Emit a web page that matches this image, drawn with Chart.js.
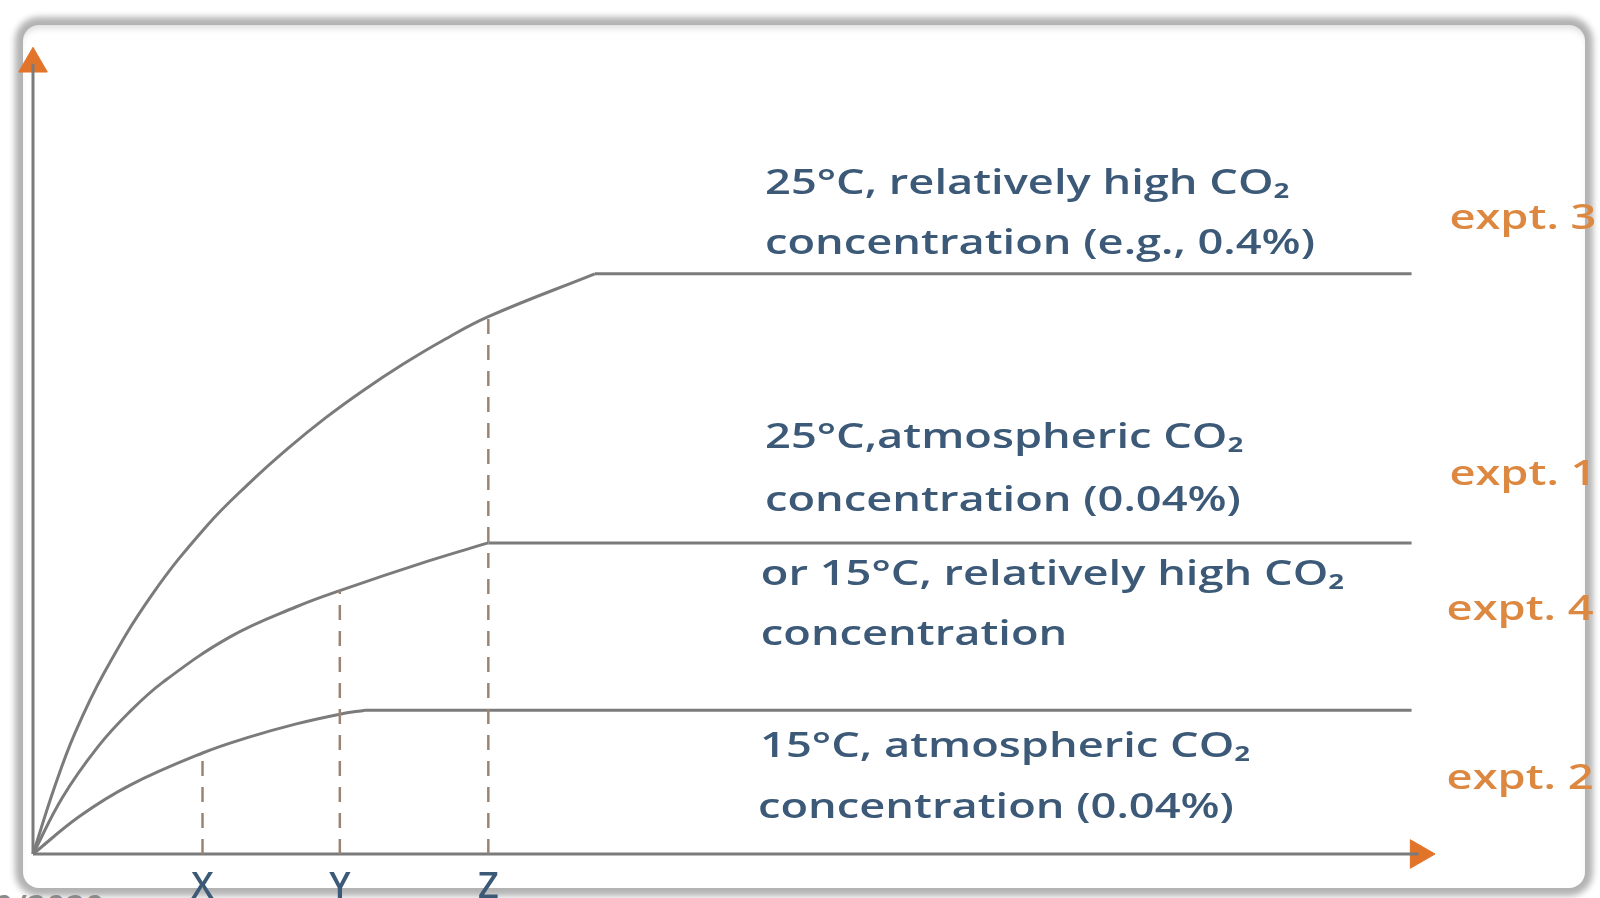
<!DOCTYPE html>
<html lang="en">
<head>
  <meta charset="UTF-8">
  <title>Rate of photosynthesis</title>
  <style>
    html, body { margin: 0; padding: 0; background: #ffffff; overflow: hidden; }
    #page { position: relative; width: 1600px; height: 898px; }
    #frame {
      position: absolute; left: 23px; top: 25px; width: 1562px; height: 863px;
      background: #ffffff; border-radius: 16px;
      box-shadow: 0 0 6px 8px #b3b3b3, inset 0 6px 7px -3px rgba(0,0,0,0.14);
    }
    #stamp {
      position: absolute; left: -6px; top: 884px; color: #8a8a8a;
      font: 600 34px "Open Sans", sans-serif;
    }
    #chartbox { position: absolute; left: 0; top: 0; width: 1600px; height: 898px; }
  </style>
</head>
<body>
  <div id="page">
    <div id="frame"></div>
    <div id="stamp">0/2020</div>
    <div id="chartbox"><canvas id="myChart"></canvas></div>
  </div>
  <script src="https://cdn.jsdelivr.net/npm/chart.js@4/dist/chart.umd.min.js"></script>
  <script>
    // curves (x = time, y = rate), last point = where the plateau starts
    const timeExpt3 = [0, 1.6, 3.0, 5.1, 8.5, 12.4, 15.5, 18.2, 20.9, 23.6, 26.4, 29.1, 32.5, 40.1];
    const rateExpt3 = [0, 8.6, 15.0, 22.5, 32.1, 40.6, 46.0, 50.2, 54.0, 57.4, 60.6, 63.4, 66.5, 71.8];
    const timeExpt1 = [0, 2.1, 4.6, 6.9, 9.3, 14.1, 18.8, 21.9, 28.3, 32.5];
    const rateExpt1 = [0, 7.0, 13.2, 17.6, 21.3, 26.9, 30.6, 32.6, 36.3, 38.5];
    const timeExpt2 = [0, 3.35, 6.9, 12.1, 15.3, 18.8, 21.9, 23.7];
    const rateExpt2 = [0, 4.7, 8.5, 12.5, 14.4, 16.1, 17.3, 17.8];
    const plateauEnd = 98.4;

    // X, Y, Z time marks and the height where each dashed line meets its curve
    const markNames = ['X', 'Y', 'Z'];
    const markTimes = [12.1, 21.9, 32.5];
    const markTops = [12.5, 32.6, 66.5];

    const axisEndX = 98.9;
    const axisEndY = 97.8;

    const conditionLines = [
      '25°C, relatively high CO₂', 'concentration (e.g., 0.4%)',
      '25°C,atmospheric CO₂', 'concentration (0.04%)',
      'or 15°C, relatively high CO₂', 'concentration',
      '15°C, atmospheric CO₂', 'concentration (0.04%)'
    ];
    const conditionX = [52.25, 52.25, 52.25, 52.25, 51.95, 51.95, 51.9, 51.75];
    const conditionY = [82.9, 75.4, 51.4, 43.7, 34.5, 27.1, 13.2, 5.7];

    const exptNames = ['expt. 3', 'expt. 1', 'expt. 4', 'expt. 2'];
    const exptX = [101.1, 101.1, 100.9, 100.9];
    const exptY = [78.6, 46.9, 30.2, 9.3];

    const LINE = '#7b7b7b';
    const DASH = '#9a8474';
    const ARROW = '#e2742a';
    const ORANGE = '#dc8840';
    const TEXT = '#3c5a78';
    const STRETCH = 1.33;   // the slide font is much wider than Open Sans

    function pts(xs, ys) {
      return xs.map((x, i) => ({ x: x, y: ys[i] }));
    }
    function plateau(xs, ys) {
      const last = ys[ys.length - 1];
      return [{ x: xs[xs.length - 1], y: last }, { x: plateauEnd, y: last }];
    }

    const datasets = [];
    markTimes.forEach((t, i) => {
      datasets.push({
        data: [{ x: t, y: 0 }, { x: t, y: markTops[i] }],
        borderColor: DASH, borderWidth: 2.5, borderDash: [15, 11], pointRadius: 0
      });
    });
    [[timeExpt3, rateExpt3], [timeExpt1, rateExpt1], [timeExpt2, rateExpt2]].forEach(([xs, ys]) => {
      datasets.push({
        data: pts(xs, ys), borderColor: LINE, borderWidth: 3,
        tension: 0.4, pointRadius: 0
      });
      datasets.push({
        data: plateau(xs, ys), borderColor: LINE, borderWidth: 3, pointRadius: 0
      });
    });
    // axes with arrow heads
    datasets.push({
      data: [{ x: 0, y: 0 }, { x: 0, y: axisEndY }], borderColor: LINE, borderWidth: 3, pointRadius: 0
    });
    datasets.push({
      data: [{ x: 0, y: 0 }, { x: axisEndX, y: 0 }], borderColor: LINE, borderWidth: 3, pointRadius: 0
    });
    datasets.push({
      data: [{ x: 0, y: axisEndY }, { x: axisEndX, y: 0 }], showLine: false,
      pointStyle: 'triangle', pointRadius: 16.5, pointRotation: [0, 90],
      pointBackgroundColor: ARROW, pointBorderColor: ARROW, pointBorderWidth: 1
    });

    function wideText(ctx, s, x, y) {
      ctx.save();
      ctx.translate(x, y);
      ctx.scale(STRETCH, 1);
      ctx.fillText(s, 0, 0);
      ctx.restore();
    }

    const textPlugin = {
      id: 'labels',
      afterDatasetsDraw(chart) {
        const ctx = chart.ctx;
        const xs = chart.scales.x, ys = chart.scales.y;
        ctx.save();
        ctx.textBaseline = 'middle';
        ctx.textAlign = 'left';
        ctx.fillStyle = TEXT;
        ctx.font = '600 34px "Open Sans", sans-serif';
        conditionLines.forEach((s, i) => {
          wideText(ctx, s, xs.getPixelForValue(conditionX[i]), ys.getPixelForValue(conditionY[i]));
        });
        ctx.fillStyle = ORANGE;
        exptNames.forEach((s, i) => {
          wideText(ctx, s, xs.getPixelForValue(exptX[i]), ys.getPixelForValue(exptY[i]));
        });
        ctx.fillStyle = TEXT;
        ctx.textAlign = 'center';
        ctx.textBaseline = 'top';
        ctx.font = '600 36px "Open Sans", sans-serif';
        markNames.forEach((s, i) => {
          ctx.fillText(s, xs.getPixelForValue(markTimes[i]), ys.getPixelForValue(-1.9));
        });
        ctx.restore();
      }
    };

    new Chart(document.getElementById('myChart').getContext('2d'), {
      type: 'line',
      data: { datasets: datasets },
      options: {
        responsive: true,
        maintainAspectRatio: false,
        animation: false,
        clip: false,
        layout: { padding: { left: 33, right: 166, top: 46, bottom: 44 } },
        plugins: { legend: { display: false }, tooltip: { enabled: false } },
        scales: {
          x: { type: 'linear', min: 0, max: 100, display: false },
          y: { type: 'linear', min: 0, max: 100, display: false }
        }
      },
      plugins: [textPlugin]
    });
  </script>
</body>
</html>
